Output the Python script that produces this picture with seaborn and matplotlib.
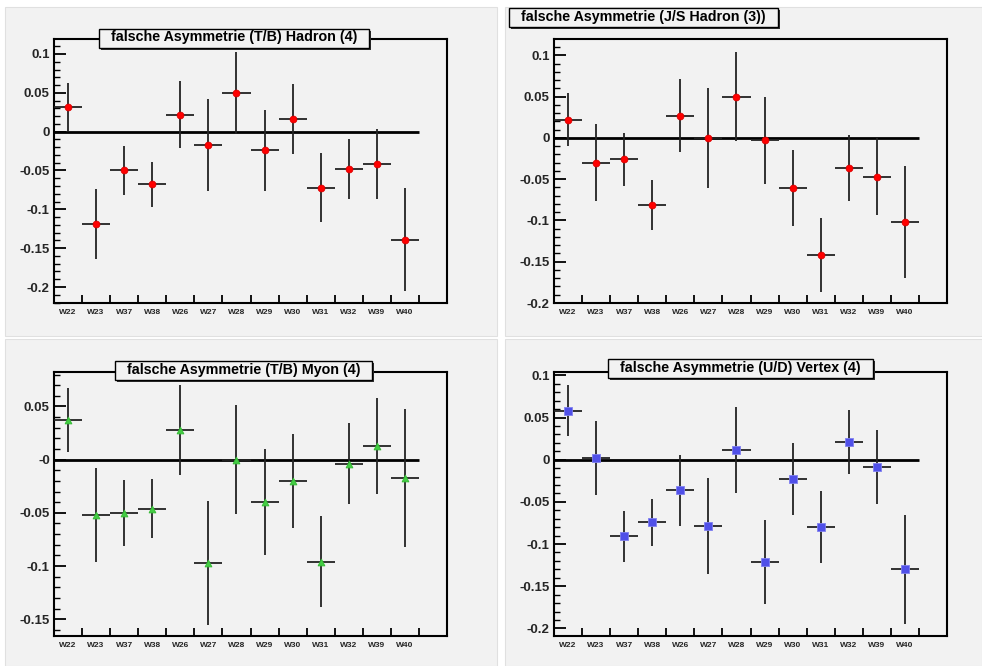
"""
Falsche Asymmetrien pro Woche, vier Panels im ROOT-Stil.
"""

import numpy as np
import pandas as pd
import matplotlib
matplotlib.use("Agg")
import matplotlib.pyplot as plt
from matplotlib.patches import Rectangle
from matplotlib.ticker import MultipleLocator, FixedLocator, FuncFormatter
import seaborn as sns

# Data
weeks = ['W22', 'W23', 'W37', 'W38', 'W26', 'W27', 'W28',
         'W29', 'W30', 'W31', 'W32', 'W39', 'W40']

hadron_tb = [0.032, -0.119, -0.050, -0.068, 0.022, -0.017, 0.050,
             -0.024, 0.016, -0.072, -0.048, -0.042, -0.139]
hadron_tb_err = [0.031, 0.045, 0.031, 0.029, 0.043, 0.059, 0.053,
                 0.052, 0.045, 0.044, 0.039, 0.045, 0.066]

hadron_js = [0.022, -0.030, -0.026, -0.081, 0.027, 0.000, 0.050,
             -0.003, -0.061, -0.142, -0.037, -0.047, -0.102]
hadron_js_err = [0.032, 0.047, 0.032, 0.030, 0.044, 0.061, 0.054,
                 0.053, 0.046, 0.045, 0.040, 0.047, 0.068]

myon_tb = [0.037, -0.052, -0.050, -0.046, 0.028, -0.097, 0.000,
           -0.040, -0.020, -0.096, -0.004, 0.013, -0.017]
myon_tb_err = [0.030, 0.044, 0.031, 0.028, 0.042, 0.058, 0.051,
               0.050, 0.044, 0.043, 0.038, 0.045, 0.065]

vertex_ud = [0.058, 0.002, -0.091, -0.074, -0.036, -0.079, 0.012,
             -0.121, -0.023, -0.080, 0.021, -0.009, -0.130]
vertex_ud_err = [0.030, 0.044, 0.030, 0.028, 0.042, 0.057, 0.051,
                 0.050, 0.043, 0.043, 0.038, 0.044, 0.065]

W, H = 982, 666
PAD_COLOR = '#f2f2f2'

sns.set_style("white")
plt.rcParams['font.family'] = ['Liberation Sans', 'DejaVu Sans']
plt.rcParams['font.weight'] = 'bold'

panels = [
    dict(title='falsche Asymmetrie (T/B) Hadron (4)', y=hadron_tb, err=hadron_tb_err,
         marker='o', color='#ff0000', edge='#dd0000', s=24,
         ylim=(-0.2206, 0.1193), zero='0', ax_xy=(54, 303), title_xy=(234, 37.5)),
    dict(title='falsche Asymmetrie (J/S Hadron (3))', y=hadron_js, err=hadron_js_err,
         marker='o', color='#ff0000', edge='#dd0000', s=24,
         ylim=(-0.2, 0.1198), zero='0', ax_xy=(554, 303), title_xy=(643.5, 16.5)),
    dict(title='falsche Asymmetrie (T/B) Myon (4)', y=myon_tb, err=myon_tb_err,
         marker='^', color='#44cc44', edge='#33bb33', s=24,
         ylim=(-0.1658, 0.0824), zero='-0', ax_xy=(54, 636), title_xy=(243.5, 370)),
    dict(title='falsche Asymmetrie (U/D) Vertex (4)', y=vertex_ud, err=vertex_ud_err,
         marker='s', color='#5050e8', edge='#8080f0', s=26,
         ylim=(-0.209, 0.104), zero='0', ax_xy=(554, 636), title_xy=(740.5, 368)),
]

fig = plt.figure(figsize=(W / 100, H / 100), dpi=100, facecolor='white')

# pad backgrounds (x0, y_top, x1, y_bottom) in pixels
for x0, y0, x1, y1 in [(5, 7, 497, 336), (505, 7, 982, 336),
                       (5, 339, 497, 666), (505, 339, 982, 666)]:
    fig.patches.append(Rectangle((x0 / W, 1 - y1 / H), (x1 - x0) / W, (y1 - y0) / H,
                                 transform=fig.transFigure, facecolor=PAD_COLOR,
                                 edgecolor='#e0e0e0', linewidth=0.8, zorder=-5))

xpos = np.arange(len(weeks)) + 0.5
titles = []

for p in panels:
    left, bottom = p['ax_xy']
    ax = fig.add_axes([left / W, 1 - bottom / H, 393 / W, 264 / H])
    ax.set_facecolor(PAD_COLOR)

    df = pd.DataFrame({'week': weeks, 'x': xpos, 'y': p['y'], 'err': p['err']})

    ax.hlines(0, 0, len(weeks), color='black', linewidth=2.0, zorder=2)
    ax.errorbar(df['x'], df['y'], xerr=0.5, yerr=df['err'], fmt='none',
                ecolor='#222222', elinewidth=1.3, capsize=0, zorder=3)
    sns.scatterplot(data=df, x='x', y='y', marker=p['marker'], color=p['color'],
                    edgecolor=p['edge'], linewidth=0.6, s=p['s'], ax=ax, zorder=4,
                    legend=False)

    ax.set_xlim(0, len(weeks) + 1)
    ax.set_ylim(*p['ylim'])
    ax.set_xlabel('')
    ax.set_ylabel('')

    # x: labels at bin centres, ticks at bin edges
    ax.xaxis.set_major_locator(FixedLocator(xpos))
    ax.set_xticklabels(weeks, fontsize=6, fontweight='bold')
    ax.xaxis.set_minor_locator(FixedLocator(np.arange(1, len(weeks) + 1)))
    ax.tick_params(axis='x', which='major', length=0, pad=4.5)
    ax.tick_params(axis='x', which='minor', direction='in', length=5.8,
                   width=1.3, color='black', bottom=True, top=False)

    # y: ROOT-style ticks
    zero_lbl = p['zero']
    ax.yaxis.set_major_locator(MultipleLocator(0.05))
    ax.yaxis.set_minor_locator(MultipleLocator(0.01))
    ax.yaxis.set_major_formatter(FuncFormatter(
        lambda v, pos, z=zero_lbl: z if abs(v) < 1e-9 else '%g' % round(v, 4)))
    ax.tick_params(axis='y', which='major', direction='in', length=8.6, width=1.3,
                   color='black', labelsize=9.5, pad=3, left=True, right=False)
    ax.tick_params(axis='y', which='minor', direction='in', length=4.3, width=1.0,
                   color='black', left=True, right=False)
    for lbl in ax.get_yticklabels():
        lbl.set_fontweight('bold')

    for sp in ax.spines.values():
        sp.set_visible(True)
        sp.set_color('black')
        sp.set_linewidth(1.5)

    cx, cy = p['title_xy']
    t = fig.text(cx / W, 1 - cy / H, p['title'], ha='center', va='center',
                 fontsize=10.3, fontweight='bold', color='black', zorder=8)
    titles.append(t)

# title boxes with a small drop shadow, sized from the rendered text
renderer = fig.canvas.get_renderer()
for t in titles:
    bb = t.get_window_extent(renderer)
    x0, y0 = bb.x0 - 12, bb.y0 - 3
    bw, bh = bb.width + 24, bb.height + 5
    fig.patches.append(Rectangle(((x0 + 2) / W, (y0 - 2) / H), bw / W, bh / H,
                                 transform=fig.transFigure, facecolor='#303030',
                                 edgecolor='none', zorder=6))
    fig.patches.append(Rectangle((x0 / W, y0 / H), bw / W, bh / H,
                                 transform=fig.transFigure, facecolor=PAD_COLOR,
                                 edgecolor='black', linewidth=1.0, zorder=7))

plt.savefig('out.png', dpi=100, facecolor=fig.get_facecolor())
